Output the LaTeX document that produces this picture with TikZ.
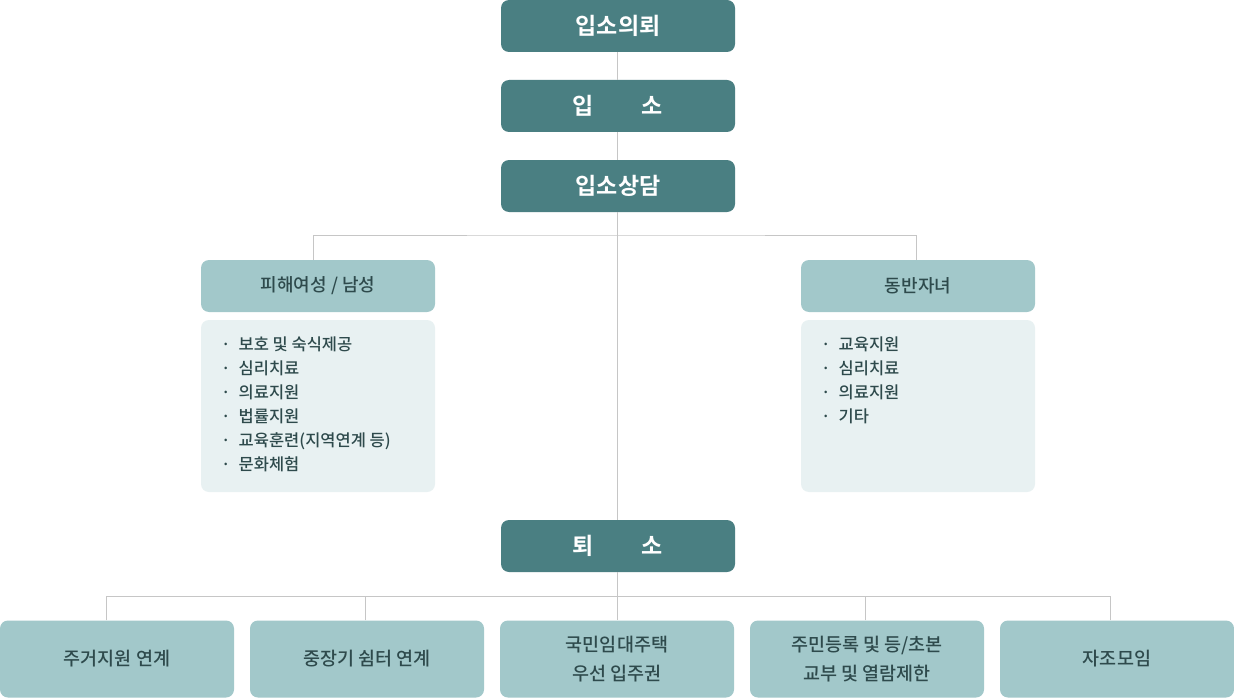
\documentclass[tikz,border=0pt]{standalone}
\usepackage{fontspec}
\setmainfont{Noto Sans CJK KR}[BoldFont=* Bold]
\newfontfamily\medfont{Noto Sans CJK KR}[UprightFont=* Medium]
\usetikzlibrary{positioning}
\definecolor{darkteal}{HTML}{4A7F82}
\definecolor{midteal}{HTML}{A2C8CA}
\definecolor{paleteal}{HTML}{E8F1F2}
\definecolor{txtdark}{HTML}{2E4A4C}
\definecolor{linegray}{HTML}{C6C6C6}
\tikzset{
  mainbox/.style={fill=darkteal, rounded corners=8pt, minimum width=234pt, minimum height=52pt, text=white, font=\fontsize{23}{26}\selectfont\bfseries, inner sep=0pt},
  subbox/.style={fill=midteal, rounded corners=8pt, minimum width=234pt, minimum height=52pt, text=txtdark, font=\fontsize{18}{22}\selectfont\medfont, inner sep=0pt},
  listbox/.style={fill=paleteal, rounded corners=8pt, minimum width=234pt, minimum height=172pt, inner sep=0pt},
  endbox/.style={fill=midteal, rounded corners=8pt, minimum width=234pt, minimum height=77pt, text=txtdark, font=\fontsize{18.5}{29}\selectfont\medfont, align=center, inner sep=0pt},
  listtext/.style={text=txtdark, font=\fontsize{16.5}{24}\selectfont\medfont, align=left, inner sep=0pt, anchor=north west},
  conn/.style={draw=linegray, line width=1pt}
}
\newcommand{\bul}{·\hspace{8pt}}
\begin{document}
\begin{tikzpicture}[x=1pt,y=-1pt]
\useasboundingbox[fill=white] (0,0) rectangle (1234,698);
% main column
\node[mainbox] (req) at (618,26) {입소의뢰};
\node[mainbox] (adm) at (618,106) {입\hspace{48pt}소};
\node[mainbox] (cons) at (618,186) {입소상담};
\node[subbox] (vic) at (318,286) {피해여성 / 남성};
\node[subbox] (chi) at (918,286) {동반자녀};
\node[listbox] (vlist) at (318,406) {};
\node[listbox] (clist) at (918,406) {};
\node[listtext] (vtext) at (221,337) {\bul 보호 및 숙식제공\\ \bul 심리치료\\ \bul 의료지원\\ \bul 법률지원\\ \bul 교육훈련(지역연계 등)\\ \bul 문화체험};
\node[listtext] (ctext) at (821,337) {\bul 교육지원\\ \bul 심리치료\\ \bul 의료지원\\ \bul 기타};
\node[mainbox] (dis) at (618,546) {퇴\hspace{48pt}소};
\node[endbox] (e1) at (117,659) {주거지원 연계};
\node[endbox] (e2) at (367,659) {중장기 쉼터 연계};
\node[endbox] (e3) at (617,659) {국민임대주택\\우선 입주권};
\node[endbox] (e4) at (867,659) {주민등록 및 등/초본\\교부 및 열람제한};
\node[endbox] (e5) at (1117,659) {자조모임};
% connectors
\coordinate (hubA) at (617,235);
\coordinate (hubB) at (617,596);
\draw[conn] ([xshift=-1pt]req.south) -- ([xshift=-1pt]adm.north);
\draw[conn] ([xshift=-1pt]adm.south) -- ([xshift=-1pt]cons.north);
\draw[conn] ([xshift=-1pt]cons.south) -- ([xshift=-1pt]dis.north);
\draw[conn] ([xshift=-5pt]vic.north) |- (hubA) -| ([xshift=-2pt]chi.north);
\draw[conn] ([xshift=-1pt]dis.south) -- (e3.north);
\draw[conn] ([xshift=-11pt]e1.north) |- (hubB);
\draw[conn] ([xshift=-2pt]e2.north) |- (hubB);
\draw[conn] ([xshift=-2pt]e4.north) |- (hubB);
\draw[conn] ([xshift=-7pt]e5.north) |- (hubB);
\end{tikzpicture}
\end{document}
